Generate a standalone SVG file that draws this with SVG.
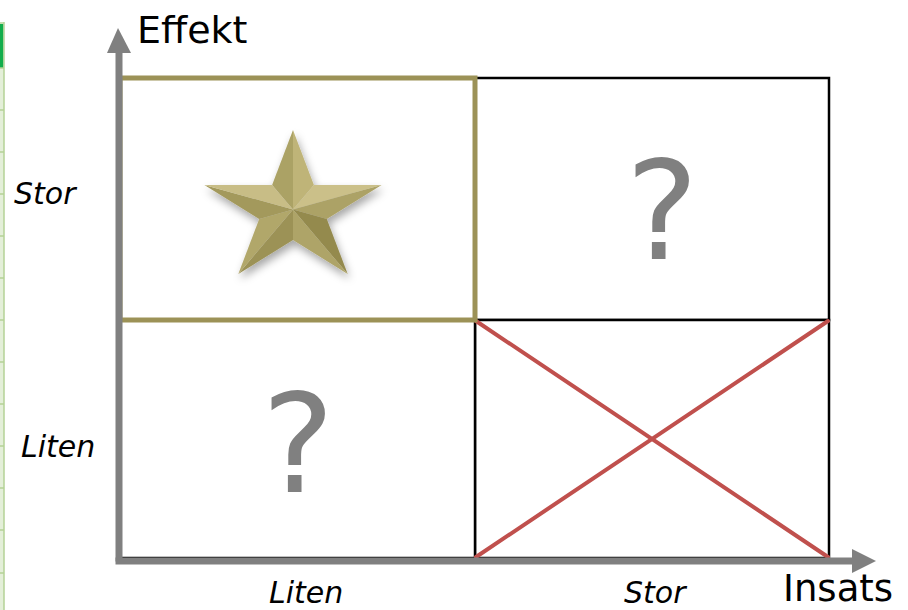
<svg xmlns="http://www.w3.org/2000/svg" width="908" height="610" viewBox="0 0 908 610">
  <style>
    .lbl { font-family: "DejaVu Sans", Verdana, sans-serif; fill: #000; }
    .ax { font-size: 38px; }
    .it { font-size: 30px; font-style: italic; }
    .q { font-family: "DejaVu Sans", Verdana, sans-serif; font-size: 137px; fill: #808080; text-anchor: middle; }
    .box { fill: #fff; stroke: #000; stroke-width: 2.5; }
    .axis { stroke: #808080; stroke-width: 7; fill: none; }
    .cross { stroke: #c0504d; stroke-width: 4; stroke-linecap: round; }
    .grid { stroke: #b4d296; stroke-width: 1.5; }
  </style>
  <defs>
    <filter id="shadow" x="-20%" y="-20%" width="150%" height="150%">
      <feDropShadow dx="2" dy="5" stdDeviation="4" flood-color="#000" flood-opacity="0.35"/>
    </filter>
  </defs>
  <rect width="908" height="610" fill="#fff"/>

  <!-- spreadsheet sliver at left edge -->
  <g id="sheet-edge">
    <rect x="0" y="68" width="4" height="542" fill="#e4efd9"/>
    <rect x="0" y="24" width="3.5" height="44" fill="#12ad4c"/>
    <line class="grid" x1="4" y1="22" x2="4" y2="610"/>
    <line class="grid" x1="0" y1="23" x2="4" y2="23"/>
    <line class="grid" x1="0" y1="68" x2="4" y2="68"/>
    <line class="grid" x1="0" y1="110" x2="4" y2="110"/>
    <line class="grid" x1="0" y1="152" x2="4" y2="152"/>
    <line class="grid" x1="0" y1="194" x2="4" y2="194"/>
    <line class="grid" x1="0" y1="236" x2="4" y2="236"/>
    <line class="grid" x1="0" y1="278" x2="4" y2="278"/>
    <line class="grid" x1="0" y1="320" x2="4" y2="320"/>
    <line class="grid" x1="0" y1="362" x2="4" y2="362"/>
    <line class="grid" x1="0" y1="404" x2="4" y2="404"/>
    <line class="grid" x1="0" y1="446" x2="4" y2="446"/>
    <line class="grid" x1="0" y1="488" x2="4" y2="488"/>
    <line class="grid" x1="0" y1="530" x2="4" y2="530"/>
    <line class="grid" x1="0" y1="573" x2="4" y2="573"/>
  </g>

  <!-- quadrants -->
  <g id="quadrant-top-right">
    <rect class="box" x="475" y="78" width="354" height="242"/>
    <text class="q" x="662" y="259">?</text>
  </g>
  <g id="quadrant-bottom-right">
    <rect class="box" x="475" y="320" width="354" height="238"/>
  </g>
  <g id="quadrant-bottom-left">
    <rect class="box" x="120" y="320" width="355" height="238"/>
    <text class="q" x="298" y="492">?</text>
  </g>

  <g id="connectors">
    <line class="cross" x1="476" y1="321" x2="828" y2="557"/>
    <line class="cross" x1="476" y1="557" x2="828" y2="321"/>
  </g>

  <g id="quadrant-top-left">
    <rect x="120" y="78" width="355" height="242" fill="#fff" stroke="#9c9257" stroke-width="5"/>
    <g id="star" filter="url(#shadow)">
      <polygon points="293,209.6 293,130 272.1,185" fill="#aba265"/>
      <polygon points="293,209.6 293,130 313.9,185" fill="#bfb478"/>
      <polygon points="293,209.6 381.6,185 313.9,185" fill="#cbc089"/>
      <polygon points="293,209.6 381.6,185 326.8,219" fill="#aca266"/>
      <polygon points="293,209.6 347.7,274 326.8,219" fill="#948a4e"/>
      <polygon points="293,209.6 347.7,274 293,240" fill="#aea468"/>
      <polygon points="293,209.6 238.3,274 293,240" fill="#9c9256"/>
      <polygon points="293,209.6 238.3,274 259.2,219" fill="#b1a76b"/>
      <polygon points="293,209.6 204.4,185 259.2,219" fill="#a3995b"/>
      <polygon points="293,209.6 204.4,185 272.1,185" fill="#c8bd86"/>
    </g>
  </g>

  <!-- axes -->
  <g id="axes">
    <line class="axis" x1="119" y1="50" x2="119" y2="561.5"/>
    <polygon points="118,28 107,53 131,53" fill="#808080"/>
    <line class="axis" x1="115.5" y1="561" x2="855" y2="561"/>
    <polygon points="876,561 852,549 852,573" fill="#808080"/>
  </g>

  <!-- labels -->
  <g id="labels">
    <text class="lbl ax" x="783" y="601" style="font-size:37px">Insats</text>
    <text class="lbl ax" x="137" y="43">Effekt</text>
    <text class="lbl it" x="269" y="603">Liten</text>
    <text class="lbl it" x="624" y="603">Stor</text>
    <text class="lbl it" x="14" y="204">Stor</text>
    <text class="lbl it" x="21" y="457">Liten</text>
  </g>
</svg>
